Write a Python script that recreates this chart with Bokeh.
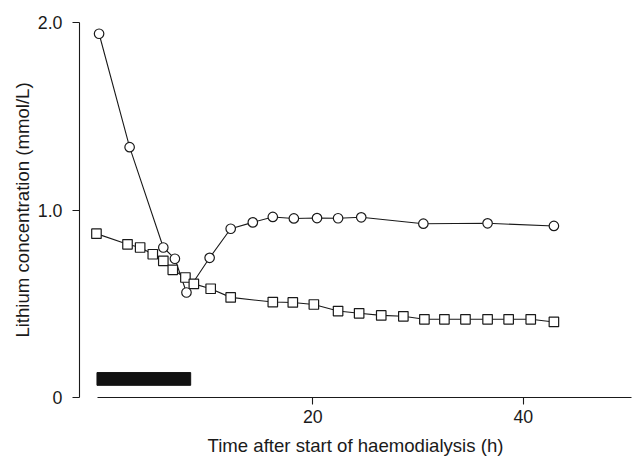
from bokeh.plotting import figure
from bokeh.models import Range1d, FixedTicker
from bokeh.embed import file_html
from bokeh.resources import INLINE

# Serum lithium (open circles)
circle_t = [-0.3, 2.6, 5.8, 6.9, 8.0, 10.2, 12.2, 14.3, 16.2, 18.2, 20.4, 22.4, 24.6, 30.5, 36.6, 42.9]
circle_c = [1.94, 1.335, 0.80, 0.74, 0.56, 0.745, 0.90, 0.934, 0.963, 0.955, 0.957, 0.956, 0.961, 0.927, 0.929, 0.915]

# Second series (open squares)
square_t = [-0.55, 2.4, 3.6, 4.8, 5.8, 6.7, 7.9, 8.7, 10.3, 12.2, 16.2, 18.1, 20.1, 22.4,
            24.4, 26.5, 28.6, 30.6, 32.5, 34.5, 36.6, 38.6, 40.7, 42.9]
square_c = [0.874, 0.817, 0.80, 0.764, 0.729, 0.681, 0.64, 0.606, 0.58, 0.534, 0.509, 0.507,
            0.496, 0.461, 0.449, 0.438, 0.433, 0.417, 0.417, 0.417, 0.417, 0.417, 0.417, 0.403]

# Haemodialysis period (h)
dialysis_period = [-0.5, 8.4]

x_ticks = [20, 40]
y_ticks = [0, 1, 2]
y_tick_labels = ["0", "1.0", "2.0"]

FONT = "Liberation Sans"

p = figure(width=638, height=458,
           x_range=Range1d(-2.16, 50.27), y_range=Range1d(0, 2.0),
           output_backend="svg", toolbar_location=None,
           min_border_left=79, min_border_right=7, min_border_top=22, min_border_bottom=60)

p.outline_line_color = None
p.grid.visible = False
p.background_fill_color = "white"

# dialysis bar
p.quad(left=[dialysis_period[0]], right=[dialysis_period[1]], bottom=[0.065], top=[0.133],
       fill_color="#111111", line_color="#111111")

p.line(circle_t, circle_c, line_color="#1a1a1a", line_width=1.1)
p.line(square_t, square_c, line_color="#1a1a1a", line_width=1.1)
p.scatter(square_t, square_c, marker="square", size=9.5, fill_color="white",
          line_color="#1a1a1a", line_width=1.2)
p.scatter(circle_t, circle_c, marker="circle", size=9.5, fill_color="white",
          line_color="#1a1a1a", line_width=1.2)

for ax in (p.xaxis[0], p.yaxis[0]):
    ax.axis_line_color = "#1a1a1a"
    ax.axis_line_width = 1.1
    ax.major_tick_line_color = "#1a1a1a"
    ax.major_tick_line_width = 1.1
    ax.major_tick_out = 7
    ax.major_tick_in = 0
    ax.minor_tick_line_color = None
    ax.major_label_text_font = FONT
    ax.major_label_text_font_size = "17.8px"
    ax.major_label_text_color = "#1a1a1a"
    ax.axis_label_text_font = FONT
    ax.axis_label_text_font_size = "18.6px"
    ax.axis_label_text_font_style = "normal"
    ax.axis_label_text_color = "#1a1a1a"

p.xaxis.ticker = FixedTicker(ticks=x_ticks)
p.xaxis.bounds = (-0.42, 50.27)
p.xaxis.axis_label = "Time after start of haemodialysis (h)"
p.xaxis.major_label_standoff = 5
p.xaxis.axis_label_standoff = 9

p.yaxis.ticker = FixedTicker(ticks=y_ticks)
p.yaxis.major_label_overrides = {t: l for t, l in zip(y_ticks, y_tick_labels)}
p.yaxis.bounds = (0, 2)
p.yaxis.axis_label = "Lithium concentration (mmol/L)"
p.yaxis.major_label_standoff = 10
p.yaxis.axis_label_standoff = 2

open("out.html", "w").write(file_html(p, INLINE))
